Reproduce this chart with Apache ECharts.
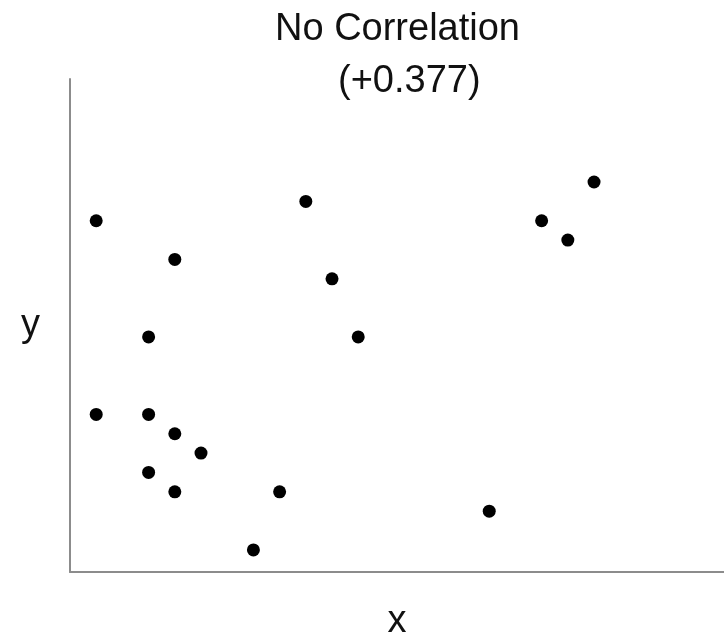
<!DOCTYPE html>
<html>
<head>
<meta charset="utf-8">
<script src="https://cdn.jsdelivr.net/npm/echarts@6/dist/echarts.min.js"></script>
<style>html,body{margin:0;padding:0;background:#fff;}#c{width:724px;height:637px;}</style>
</head>
<body>
<div id="c"></div>
<script>
const titleLine1 = 'No Correlation';
const titleLine2 = '(+0.377)';
const xName = 'x';
const yName = 'y';
const xs = [1, 4, 3, 1, 3, 4, 5, 3, 4, 7, 8, 9, 10, 11, 16, 18, 19, 20];
const ys = [18, 16, 12, 8, 8, 7, 6, 5, 4, 1, 4, 19, 15, 12, 3, 18, 17, 20];

const points = xs.map((x, i) => [x, ys[i]]);
const font = '"Liberation Sans", Arial, sans-serif';
const chart = echarts.init(document.getElementById('c'), null, {renderer: 'canvas'});
chart.setOption({
  backgroundColor: '#fff',
  animation: false,
  title: [
    {text: titleLine1, left: 275, top: 11, padding: 0,
     textStyle: {fontFamily: font, fontSize: 38, fontWeight: 'normal', color: '#111'}},
    {text: titleLine2, left: 338, top: 63, padding: 0,
     textStyle: {fontFamily: font, fontSize: 38, fontWeight: 'normal', color: '#111'}}
  ],
  grid: {left: 70, right: 0, top: 79, bottom: 65, containLabel: false, outerBoundsMode: 'none'},
  xAxis: {
    type: 'value', min: 0, max: 24.96,
    name: xName, nameLocation: 'middle', nameGap: 31,
    nameTextStyle: {fontFamily: font, fontSize: 38, color: '#111'},
    axisLine: {show: true, onZero: false, lineStyle: {color: '#8c8c8c', width: 2}},
    axisTick: {show: false}, axisLabel: {show: false}, splitLine: {show: false}
  },
  yAxis: {
    type: 'value', min: -0.14, max: 25.32,
    name: yName, nameLocation: 'middle', nameGap: 30, nameRotate: 0,
    nameTextStyle: {fontFamily: font, fontSize: 38, color: '#111'},
    axisLine: {show: true, onZero: false, lineStyle: {color: '#8c8c8c', width: 2}},
    axisTick: {show: false}, axisLabel: {show: false}, splitLine: {show: false}
  },
  series: [{
    type: 'scatter',
    data: points,
    symbol: 'circle',
    symbolSize: 13,
    itemStyle: {color: '#000', opacity: 1}
  }]
});
</script>
</body>
</html>
